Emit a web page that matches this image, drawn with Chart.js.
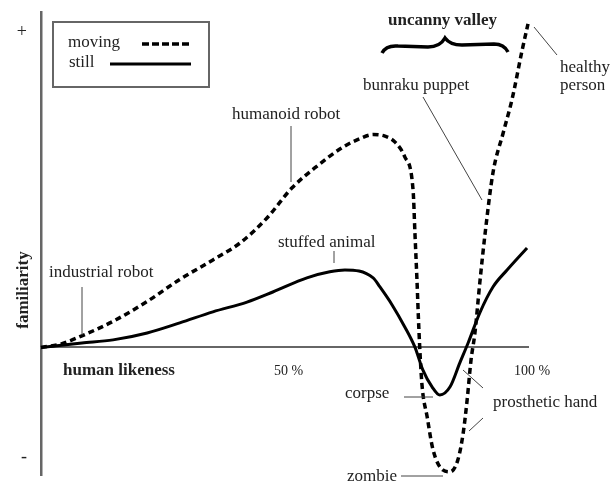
<!DOCTYPE html>
<html>
<head>
<meta charset="utf-8">
<script src="https://cdn.jsdelivr.net/npm/chart.js@4.4.1/dist/chart.umd.min.js"></script>
<style>
  html, body { margin: 0; padding: 0; background: #fff; }
  canvas { display: block; }
</style>
</head>
<body>
<canvas id="valleyChart" width="616" height="486"></canvas>
<script>
// human likeness (%) vs familiarity (arbitrary, + = 100)
var movingX = [0, 3.9, 8.4, 14.8, 21.8, 28.5, 35.3, 40.9, 46.4, 51.5, 56.7, 62.0, 65.5, 68.2, 70.6, 72.7, 74.7, 76.4, 76.8, 77.2, 77.6, 78.2, 79.3, 80.5, 82.5, 84.0, 85.6, 86.7, 87.5, 88.3, 89.1, 90.1, 91.2, 92.8, 94.9, 96.7, 98.8, 100];
var movingY = [0, 1.0, 3.7, 8.3, 14.6, 21.6, 27.8, 33.2, 41.1, 50.6, 57.6, 63.6, 66.3, 67.6, 67.1, 65.2, 60.5, 50.0, 35.7, 21.4, 5.6, -11.3, -22.1, -32.5, -38.9, -39.5, -35.7, -27.1, -16.7, -4.0, 4.6, 20.5, 36.3, 55.4, 68.1, 78.6, 94.4, 102.7];

var stillX = [0, 8.4, 14.8, 21.8, 28.5, 35.3, 42.3, 47.6, 54.6, 59.3, 62.4, 68.2, 69.6, 72.1, 74.7, 76.8, 78.4, 80.3, 81.9, 84.0, 86.0, 87.7, 90.1, 92.8, 95.7, 99.8];
var stillY = [0, 1.4, 2.4, 4.6, 7.8, 11.3, 14.4, 17.6, 22.1, 24.0, 24.6, 22.1, 19.2, 13.5, 6.5, 0, -7.1, -12.5, -15.1, -12.5, -4.9, 1.4, 11.0, 19.2, 24.6, 31.6];

var xTickValues = [50, 100];
var yTickValues = [-35, 100];
var yTickLabels = ['-', '+'];

var serif = "'Liberation Serif', 'Times New Roman', serif";

function toPoints(xs, ys) {
    return xs.map(function (x, i) { return { x: x, y: ys[i] }; });
}

// legend, brace, labels and leader lines
var annotations = {
    id: 'annotations',
    afterDraw: function (chart) {
        var ctx = chart.ctx;
        ctx.save();

        // legend box
        ctx.strokeStyle = '#666';
        ctx.lineWidth = 2;
        ctx.strokeRect(53, 22, 156, 65);
        ctx.fillStyle = '#222';
        ctx.font = '17px ' + serif;
        ctx.textBaseline = 'middle';
        ctx.textAlign = 'left';
        ctx.fillText('moving', 68, 43);
        ctx.fillText('still', 69, 63);
        ctx.strokeStyle = '#000';
        ctx.lineWidth = 3.5;
        ctx.setLineDash([7, 3]);
        ctx.beginPath(); ctx.moveTo(142, 44); ctx.lineTo(192, 44); ctx.stroke();
        ctx.setLineDash([]);
        ctx.lineWidth = 3;
        ctx.beginPath(); ctx.moveTo(110, 64); ctx.lineTo(191, 64); ctx.stroke();

        // brace over the valley
        ctx.lineWidth = 3.5;
        ctx.beginPath();
        ctx.moveTo(382, 53);
        ctx.quadraticCurveTo(386, 45, 398, 46);
        ctx.lineTo(428, 47);
        ctx.quadraticCurveTo(440, 47, 445, 38);
        ctx.quadraticCurveTo(450, 45, 462, 45);
        ctx.lineTo(494, 44);
        ctx.quadraticCurveTo(504, 44, 508, 52);
        ctx.stroke();

        // bold titles
        ctx.font = 'bold 17px ' + serif;
        ctx.fillText('uncanny valley', 388, 21);
        ctx.fillText('human likeness', 63, 371);
        ctx.save();
        ctx.translate(24, 290);
        ctx.rotate(-Math.PI / 2);
        ctx.textAlign = 'center';
        ctx.fillText('familiarity', 0, 0);
        ctx.restore();

        // plain labels
        ctx.font = '17px ' + serif;
        ctx.fillStyle = '#222';
        ctx.fillText('healthy', 560, 68);
        ctx.fillText('person', 560, 86);
        ctx.fillText('bunraku puppet', 363, 86);
        ctx.fillText('humanoid robot', 232, 115);
        ctx.fillText('stuffed animal', 278, 243);
        ctx.fillText('industrial robot', 49, 273);
        ctx.fillText('corpse', 345, 394);
        ctx.fillText('prosthetic hand', 493, 403);
        ctx.fillText('zombie', 347, 477);

        // leader lines
        ctx.strokeStyle = '#444';
        ctx.lineWidth = 1;
        var leaders = [
            [534, 27, 557, 55],
            [423, 97, 482, 200],
            [291, 126, 291, 182],
            [334, 251, 334, 263],
            [82, 287, 82, 335],
            [404, 397, 433, 397],
            [463, 370, 483, 388],
            [469, 431, 483, 418],
            [401, 476, 443, 476]
        ];
        leaders.forEach(function (l) {
            ctx.beginPath();
            ctx.moveTo(l[0], l[1]);
            ctx.lineTo(l[2], l[3]);
            ctx.stroke();
        });
        ctx.restore();
    }
};

var chartElement = document.getElementById('valleyChart').getContext('2d');

var chartObject = new Chart(chartElement, {
    type: 'line',
    data: {
        datasets: [{
            label: 'moving',
            data: toPoints(movingX, movingY),
            borderColor: '#000',
            borderWidth: 3.5,
            borderDash: [6, 4],
            pointRadius: 0,
            cubicInterpolationMode: 'monotone',
            fill: false,
            clip: false
        }, {
            label: 'still',
            data: toPoints(stillX, stillY),
            borderColor: '#000',
            borderWidth: 3,
            pointRadius: 0,
            cubicInterpolationMode: 'monotone',
            fill: false,
            clip: false
        }]
    },
    options: {
        responsive: false,
        animation: false,
        events: [],
        layout: { padding: { top: 12, right: 88, bottom: 11, left: 0 } },
        plugins: {
            legend: { display: false },
            tooltip: { enabled: false }
        },
        scales: {
            x: {
                type: 'linear',
                min: 0,
                max: 100,
                position: { y: 0 },
                grid: { display: false, drawTicks: false },
                border: { color: '#666', width: 2 },
                afterBuildTicks: function (scale) {
                    scale.ticks = xTickValues.map(function (v) { return { value: v }; });
                },
                afterFit: function (scale) {
                    scale.paddingLeft = 0;
                    scale.paddingRight = 0;
                },
                ticks: {
                    callback: function (v) { return v + ' %'; },
                    font: { family: serif, size: 14 },
                    color: '#222',
                    padding: 15,
                    labelOffset: 4,
                    maxRotation: 0,
                    autoSkip: false
                }
            },
            y: {
                type: 'linear',
                min: -40.5,
                max: 106.5,
                grid: { display: false, drawTicks: false },
                border: { color: '#666', width: 2.5 },
                afterFit: function (scale) {
                    scale.width = 41;
                    scale.paddingTop = 0;
                    scale.paddingBottom = 0;
                },
                afterBuildTicks: function (scale) {
                    scale.ticks = yTickValues.map(function (v) { return { value: v }; });
                },
                ticks: {
                    callback: function (v) { return yTickLabels[yTickValues.indexOf(v)]; },
                    font: { family: serif, size: 18 },
                    color: '#222',
                    padding: 14,
                    autoSkip: false
                }
            }
        }
    },
    plugins: [annotations]
});
</script>
</body>
</html>
